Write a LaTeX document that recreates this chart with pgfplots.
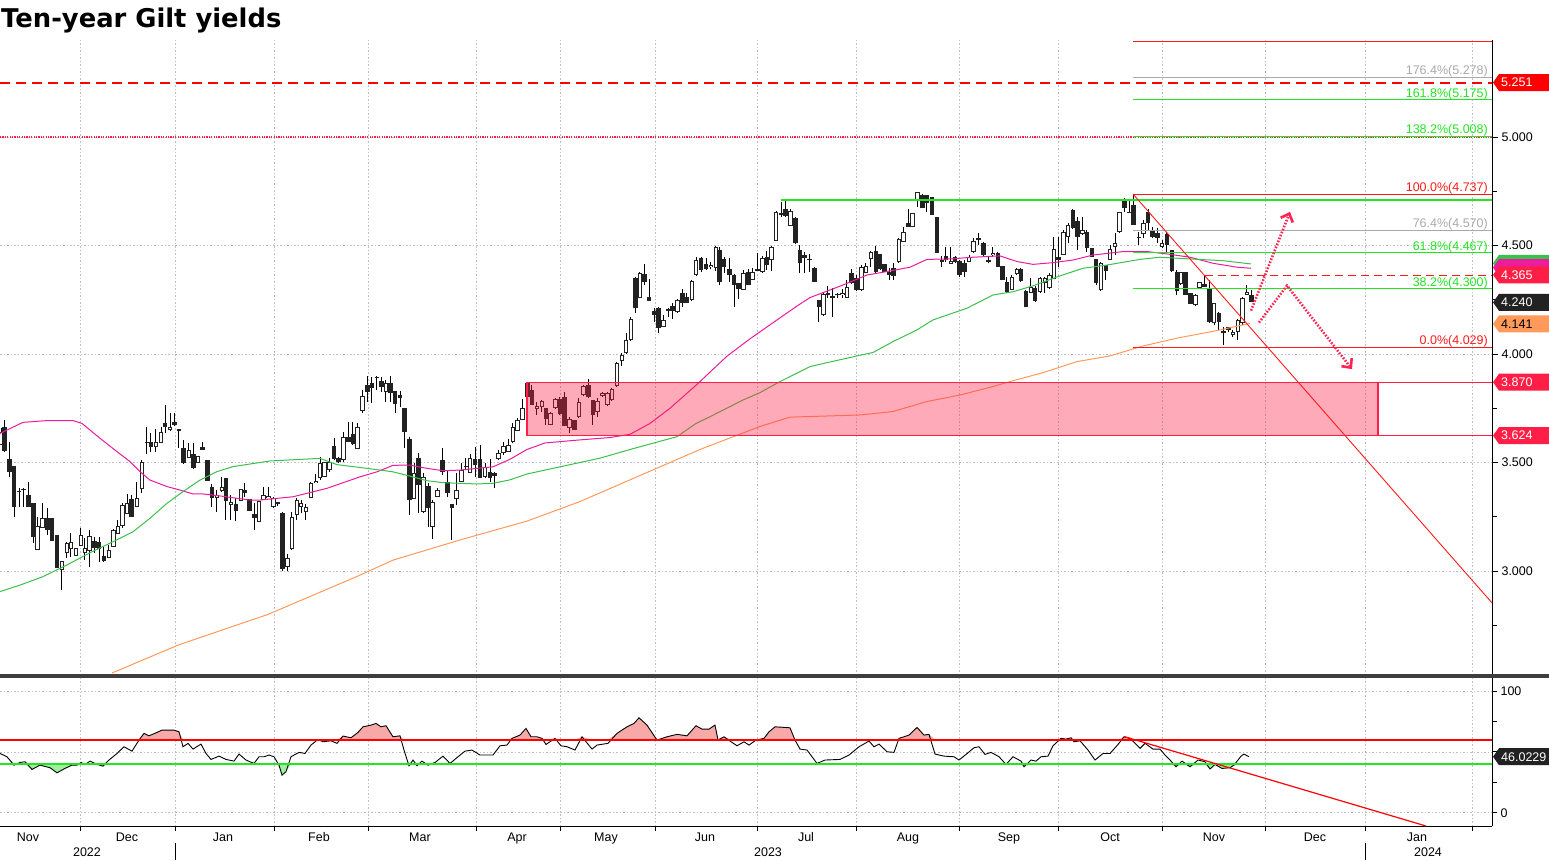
\documentclass[border=0pt]{standalone}
\usepackage{fontspec}
\setmainfont{Liberation Sans}
\newfontfamily\titlefont{DejaVu Sans}
\usepackage{pgfplots}
\usepackage{pgfplotstable}
\pgfplotsset{compat=1.18}
\usetikzlibrary{arrows.meta}

\definecolor{gridc}{HTML}{B8C0CE}
\definecolor{maA}{HTML}{EC1C9C}
\definecolor{maB}{HTML}{3CBF4C}
\definecolor{maC}{HTML}{FF9A5A}
\definecolor{fibg}{HTML}{22E622}
\definecolor{fibgr}{HTML}{AAAAAA}
\definecolor{fibr}{HTML}{FF1A1A}
\definecolor{boxr}{HTML}{FF1F46}
\definecolor{arr}{HTML}{FF2452}
\definecolor{band}{HTML}{3E3E3E}
\definecolor{flagk}{HTML}{222222}
\definecolor{rsir}{HTML}{F9A8A8}
\definecolor{rsig}{HTML}{A0EEA0}
\definecolor{hired}{HTML}{FF0000}

\pgfplotsset{/pgf/number format/assume math mode=true}

% daily candles: x position, open, high, low, close
\pgfplotstableread{
x o h l c
1 3.581 3.657 3.581 3.642
4.3 3.662 3.696 3.550 3.552
9.3 3.516 3.596 3.435 3.458
14 3.484 3.484 3.250 3.296
19 3.366 3.381 3.293 3.364
23.3 3.373 3.381 3.293 3.371
28.3 3.350 3.409 3.293 3.296
33.3 3.312 3.312 3.131 3.155
37.3 3.095 3.250 3.095 3.207
42.3 3.197 3.312 3.197 3.243
47.3 3.243 3.289 3.166 3.189
51.7 3.243 3.243 3.140 3.140
56.7 3.166 3.166 3.015 3.015
61.7 3.005 3.048 2.912 3.048
66.7 3.084 3.135 3.058 3.127
70.7 3.100 3.174 3.066 3.134
75.7 3.071 3.104 3.071 3.104
80.7 3.115 3.197 3.115 3.164
84.7 3.084 3.151 3.051 3.106
89.3 3.094 3.189 3.020 3.161
94.3 3.138 3.158 3.081 3.107
99 3.132 3.158 3.043 3.100
103.7 3.071 3.112 3.043 3.048
108.7 3.061 3.120 3.058 3.097
113.3 3.112 3.192 3.112 3.187
117.7 3.170 3.235 3.170 3.207
122.3 3.207 3.312 3.197 3.304
127 3.263 3.355 3.263 3.315
131.3 3.332 3.350 3.247 3.247
136.7 3.293 3.412 3.293 3.335
141.7 3.376 3.511 3.361 3.504
146.7 3.588 3.665 3.539 3.596
150.7 3.596 3.634 3.550 3.573
155.7 3.570 3.653 3.550 3.596
161 3.591 3.665 3.591 3.642
165 3.680 3.765 3.634 3.662
170 3.650 3.726 3.647 3.665
174.3 3.688 3.726 3.670 3.673
178.7 3.647 3.653 3.565 3.653
183.3 3.565 3.604 3.493 3.496
188.7 3.519 3.591 3.519 3.558
193.3 3.538 3.588 3.468 3.476
198 3.499 3.530 3.499 3.530
202.3 3.570 3.596 3.558 3.558
207.3 3.511 3.511 3.416 3.416
211.7 3.389 3.401 3.293 3.335
216.7 3.335 3.373 3.273 3.350
221.7 3.370 3.432 3.366 3.385
225.7 3.427 3.427 3.235 3.324
230.7 3.304 3.350 3.235 3.316
235.7 3.307 3.335 3.232 3.278
240.7 3.324 3.378 3.324 3.378
244.7 3.373 3.404 3.342 3.361
249.3 3.330 3.330 3.278 3.278
254.3 3.261 3.312 3.189 3.246
258.7 3.224 3.323 3.224 3.323
263.3 3.327 3.388 3.327 3.350
268.3 3.335 3.388 3.335 3.345
273.3 3.296 3.342 3.289 3.335
277.3 3.313 3.320 3.300 3.310
282.3 3.265 3.270 3.000 3.010
287.3 3.020 3.080 3.000 3.060
291.7 3.100 3.273 3.097 3.247
296.7 3.258 3.335 3.235 3.327
301 3.296 3.327 3.265 3.315
305.7 3.273 3.311 3.235 3.296
310.7 3.335 3.411 3.335 3.404
315.7 3.404 3.447 3.404 3.415
320 3.427 3.527 3.419 3.496
324.3 3.431 3.504 3.431 3.504
329.3 3.465 3.519 3.457 3.504
334 3.576 3.611 3.511 3.514
338.3 3.522 3.527 3.496 3.504
343.3 3.511 3.642 3.504 3.616
348.3 3.616 3.688 3.596 3.596
352.7 3.631 3.688 3.580 3.585
357.3 3.560 3.680 3.560 3.662
362.3 3.739 3.834 3.726 3.806
367.3 3.857 3.898 3.780 3.826
371.7 3.868 3.895 3.775 3.841
376.7 3.892 3.898 3.834 3.890
381.3 3.875 3.895 3.826 3.849
385.7 3.826 3.880 3.780 3.868
390.3 3.868 3.898 3.780 3.821
395 3.829 3.829 3.729 3.768
400 3.811 3.829 3.754 3.795
404.3 3.749 3.749 3.565 3.642
409.3 3.608 3.616 3.258 3.327
414 3.330 3.496 3.330 3.453
418.3 3.519 3.542 3.265 3.396
423.3 3.273 3.450 3.265 3.434
428.3 3.391 3.404 3.204 3.288
432.3 3.204 3.327 3.146 3.319
437.3 3.342 3.381 3.342 3.373
442.3 3.511 3.565 3.442 3.457
447.3 3.411 3.465 3.342 3.361
451.7 3.311 3.311 3.143 3.289
456.3 3.330 3.450 3.304 3.373
461.3 3.411 3.496 3.411 3.465
465.7 3.477 3.519 3.465 3.480
470 3.450 3.537 3.450 3.519
475 3.514 3.573 3.434 3.488
480 3.514 3.580 3.427 3.427
485 3.434 3.496 3.427 3.480
490 3.457 3.514 3.411 3.427
494.3 3.450 3.457 3.381 3.437
498.3 3.514 3.557 3.511 3.545
503.3 3.542 3.596 3.534 3.576
508.3 3.550 3.608 3.550 3.580
512.7 3.595 3.680 3.588 3.665
517.3 3.646 3.703 3.646 3.696
522.3 3.698 3.791 3.695 3.749
527.3 3.865 3.865 3.800 3.803
531.7 3.834 3.857 3.765 3.765
536.7 3.746 3.777 3.719 3.761
541.7 3.757 3.788 3.734 3.785
545.7 3.749 3.749 3.672 3.699
550.3 3.673 3.734 3.673 3.729
555.3 3.749 3.795 3.745 3.792
559.7 3.791 3.803 3.719 3.723
564.3 3.803 3.826 3.669 3.669
569.3 3.657 3.711 3.634 3.699
574.3 3.695 3.695 3.652 3.652
578.7 3.711 3.795 3.703 3.780
583.3 3.811 3.857 3.806 3.853
588.3 3.857 3.883 3.795 3.800
592.7 3.788 3.788 3.672 3.719
597.3 3.734 3.795 3.711 3.785
602.3 3.806 3.826 3.800 3.822
607.3 3.765 3.826 3.760 3.818
611.7 3.788 3.841 3.785 3.837
616.7 3.852 3.964 3.849 3.957
621.7 3.969 4.003 3.944 3.995
626 4.003 4.095 4.000 4.064
630.7 4.064 4.172 4.061 4.159
635.3 4.348 4.356 4.190 4.210
639.7 4.256 4.379 4.256 4.371
644.3 4.368 4.413 4.318 4.333
649 4.261 4.344 4.245 4.245
654.3 4.198 4.210 4.149 4.180
658.3 4.210 4.218 4.098 4.118
663.3 4.123 4.179 4.123 4.156
668.3 4.198 4.213 4.172 4.206
672.3 4.221 4.233 4.161 4.200
677.3 4.192 4.252 4.190 4.249
682.3 4.279 4.298 4.218 4.233
686.7 4.261 4.279 4.233 4.233
691.7 4.249 4.341 4.246 4.338
696 4.364 4.445 4.361 4.433
701 4.441 4.448 4.379 4.387
706 4.414 4.441 4.387 4.390
710.7 4.399 4.425 4.390 4.410
715.7 4.394 4.497 4.384 4.494
719.3 4.479 4.494 4.318 4.333
724 4.436 4.448 4.371 4.402
729.3 4.390 4.441 4.333 4.364
734 4.364 4.368 4.218 4.318
738.3 4.325 4.328 4.252 4.298
743.3 4.295 4.387 4.295 4.374
748.3 4.379 4.390 4.318 4.318
752.3 4.341 4.394 4.341 4.379
757.3 4.390 4.464 4.384 4.384
762.3 4.380 4.452 4.375 4.441
766.7 4.446 4.476 4.387 4.410
771.3 4.433 4.498 4.384 4.492
776 4.522 4.661 4.522 4.656
781 4.639 4.702 4.633 4.648
785.3 4.667 4.707 4.630 4.636
790.3 4.592 4.667 4.592 4.661
795.3 4.625 4.630 4.507 4.510
799.7 4.480 4.502 4.375 4.421
804.3 4.456 4.472 4.375 4.441
809.3 4.437 4.461 4.380 4.433
814.3 4.395 4.400 4.330 4.330
818.7 4.249 4.249 4.149 4.215
823.3 4.180 4.287 4.177 4.277
827.7 4.280 4.314 4.257 4.272
832.3 4.267 4.303 4.172 4.257
837.3 4.272 4.280 4.257 4.270
842.3 4.272 4.298 4.257 4.283
846.7 4.257 4.341 4.257 4.310
851.3 4.372 4.390 4.323 4.326
856.3 4.349 4.364 4.291 4.295
861.3 4.295 4.410 4.291 4.400
865.7 4.375 4.421 4.372 4.406
870.7 4.436 4.476 4.400 4.472
875.7 4.476 4.498 4.375 4.380
880 4.461 4.461 4.387 4.390
884.3 4.415 4.415 4.380 4.380
889.3 4.380 4.395 4.341 4.364
893.3 4.395 4.418 4.341 4.360
898.7 4.426 4.533 4.421 4.529
903.3 4.518 4.584 4.518 4.564
908.3 4.605 4.667 4.587 4.587
912.3 4.584 4.648 4.584 4.648
917.3 4.710 4.748 4.679 4.745
922.3 4.733 4.737 4.671 4.671
926.7 4.733 4.733 4.656 4.695
931.7 4.722 4.725 4.641 4.641
936.7 4.630 4.633 4.464 4.467
941.7 4.424 4.452 4.400 4.433
945.7 4.452 4.492 4.426 4.433
950.7 4.415 4.492 4.415 4.429
955 4.446 4.452 4.418 4.426
959.3 4.430 4.433 4.354 4.364
964.3 4.421 4.433 4.357 4.380
969 4.426 4.456 4.426 4.449
973.3 4.472 4.533 4.467 4.522
978.3 4.525 4.559 4.502 4.533
983.3 4.510 4.518 4.452 4.457
988.3 4.433 4.452 4.418 4.426
992.7 4.456 4.495 4.452 4.467
997.7 4.467 4.472 4.400 4.403
1002.3 4.405 4.405 4.341 4.341
1006.7 4.333 4.357 4.280 4.287
1011.7 4.295 4.364 4.295 4.357
1016.7 4.367 4.395 4.364 4.390
1020.7 4.390 4.395 4.334 4.338
1025.7 4.290 4.295 4.215 4.215
1030.7 4.280 4.349 4.280 4.307
1035 4.303 4.314 4.241 4.246
1040 4.287 4.357 4.283 4.349
1044.7 4.326 4.357 4.280 4.349
1049.3 4.303 4.372 4.298 4.364
1053.7 4.344 4.541 4.344 4.483
1058.3 4.446 4.541 4.403 4.433
1063.3 4.456 4.572 4.456 4.564
1068 4.538 4.602 4.510 4.595
1072.7 4.664 4.667 4.575 4.580
1077.3 4.615 4.633 4.479 4.538
1082.3 4.553 4.633 4.549 4.572
1086.7 4.564 4.572 4.472 4.487
1091.7 4.487 4.487 4.449 4.449
1096 4.438 4.438 4.318 4.326
1100.7 4.295 4.426 4.292 4.421
1105.7 4.410 4.410 4.341 4.384
1110 4.433 4.502 4.433 4.483
1115 4.492 4.556 4.456 4.510
1119.3 4.564 4.656 4.559 4.656
1124.3 4.713 4.718 4.656 4.671
1129.3 4.652 4.710 4.648 4.650
1133.3 4.687 4.737 4.594 4.594
1138.7 4.541 4.564 4.502 4.533
1143.3 4.553 4.618 4.533 4.602
1148 4.656 4.667 4.572 4.602
1152.3 4.572 4.587 4.533 4.541
1157.3 4.556 4.579 4.510 4.533
1162 4.495 4.525 4.487 4.510
1166.7 4.553 4.564 4.464 4.503
1171.7 4.480 4.480 4.380 4.384
1176.7 4.380 4.387 4.272 4.288
1180.7 4.323 4.380 4.318 4.380
1185.3 4.380 4.380 4.272 4.272
1190.3 4.280 4.280 4.231 4.231
1195.3 4.226 4.277 4.221 4.272
1199.3 4.303 4.334 4.303 4.334
1204.3 4.323 4.364 4.310 4.310
1209.3 4.298 4.341 4.141 4.149
1214 4.141 4.237 4.134 4.234
1218.7 4.188 4.195 4.111 4.149
1223.3 4.099 4.126 4.042 4.108
1228.3 4.126 4.126 4.103 4.111
1232.7 4.088 4.111 4.080 4.103
1237.7 4.103 4.160 4.065 4.157
1242.3 4.141 4.261 4.134 4.257
1246.7 4.272 4.318 4.272 4.287
1251.3 4.272 4.295 4.241 4.241
}\candles

% lower panel oscillator
\pgfplotstableread{
x v
0 48.7
7 46
14 39.1
20 41.3
25 41.9
32 35.6
40 39.1
50 37
57 32.8
65 36.4
72 39.1
77 39.1
81 41.3
85 39.5
90 42.4
97 39.7
103 38.3
109 43.3
117 48.7
124 54.2
132 50.6
139 59.7
144 65.2
149 63.2
157 66
162 67.9
174 67.9
179 66.5
183 54.2
188 57
193 52.3
201 56.4
206 48.7
211 43.8
219 46.5
226 43.8
234 42.4
239 48.2
246 43.3
254 40.5
259 46
264 46
269 47.4
274 46
279 39.1
282 30.9
286 33.7
291 46
299 49.6
305 48.7
311 55.6
318 60.2
323 58.3
331 59.1
337 57
343 63
351 61.6
358 66
363 70.6
371 72
376 73.4
381 70.6
386 71.5
393 62.4
400 63.2
404 51.5
409 38.6
413 43.3
417 38.6
422 42.4
428 39.1
435 41.3
443 46.5
450 40.5
458 46
465 50.6
472 51.5
480 47.4
493 47.4
500 55
507 55.6
512 61.1
520 63.8
526 69.3
531 62.4
537 62.4
542 61.1
546 56.1
555 61.1
561 55
567 54.2
575 51.5
582 62.4
592 52.3
597 55.6
608 57
617 65.2
627 70.6
634 73.4
639 78
647 72
657 59.7
667 62.4
677 64.4
687 63.2
696 71.5
702 68.7
709 68.7
715 72
718 59.7
724 62.4
731 58.3
737 55
744 58.3
749 55.6
756 59.7
764 61.1
769 66.5
775 70.6
790 69.8
795 59.7
800 52.3
807 51.5
817 40.5
825 43.3
840 43.8
849 47.4
859 54.2
869 58.9
874 54.2
879 56.4
887 50.1
894 49.6
899 61.1
909 63.8
917 70.1
924 63.8
929 64.4
935 48.2
944 46.5
954 46
959 43.3
966 47.9
974 53.4
979 54.2
985 47.9
991 49.6
999 46
1006 39.7
1013 46
1021 42.4
1024 37.8
1031 43.3
1036 42.4
1041 46
1048 46.5
1053 55
1061 61.1
1066 60.5
1071 61.6
1074 58.3
1080 59.1
1088 51.5
1095 43.3
1103 48.7
1110 48.7
1118 56.1
1124 62.4
1130 61.1
1135 57
1140 52.9
1145 57
1153 52.3
1160 52.3
1165 47.4
1170 43.3
1176 37.8
1182 42.4
1190 37.8
1198 43.3
1205 41.9
1210 35.9
1215 39.7
1222 36.4
1230 37
1234 39.1
1241 46.5
1244 48.2
1249 46
}\rsi

\newcommand{\flag}[4]{%
  \fill[#2] (axis cs:1493,#1) -- ++(6pt,8.5pt) -- ++(60pt,0pt) -- ++(0pt,-17pt) -- ++(-60pt,0pt) -- cycle;
  \node[anchor=west, inner sep=0pt, text=#3, font=\fontsize{12.5}{14}\selectfont] at ([xshift=8pt]axis cs:1493,#1) {#4};}
\newcommand{\fib}[3]{%
  \node[anchor=base east, inner sep=0pt, text=#2, font=\fontsize{12.5}{14}\selectfont] at ([yshift=2.5pt]axis cs:1488,#1) {#3};}

\begin{document}
\begin{tikzpicture}
\useasboundingbox (0pt,0pt) rectangle (1549pt,860pt);

\begin{axis}[
  at={(0pt,185pt)}, anchor=south west,
  scale only axis, width=1492pt, height=635pt,
  xmin=0, xmax=1492, ymin=2.5207, ymax=5.447,
  axis x line*=bottom, axis y line*=right,
  x axis line style={draw=none},
  y axis line style={black, line width=0.9pt},
  xtick={80.6,175,274,368,476,560,655,757,856,959,1058,1162,1265,1365,1472},
  xticklabels={}, xtick style={draw=none},
  ytick={3,3.5,4,4.5,5}, minor ytick={2.75,3.25,3.75,4.25,4.75,5.25},
  xmajorgrids, ymajorgrids,
  major grid style={gridc, dash pattern=on 1.5pt off 2pt, line width=0.7pt},
  tick align=outside, major tick length=6pt, minor tick length=5pt,
  ytick style={black, line width=0.9pt},
  y tick label style={/pgf/number format/.cd, fixed, fixed zerofill, precision=3},
  tick label style={font=\fontsize{12.5}{14}\selectfont},
  clip=false,
]
% wicks
\addplot[draw=none, no markers, error bars/.cd, y dir=plus, y explicit, error mark=none,
  error bar style={line width=1pt, draw=black, solid}]
  table[x=x, y=l, y error plus expr={\thisrow{h}-\thisrow{l}}] {\candles};
% bodies
\addplot[draw=none, no markers, error bars/.cd, y dir=plus, y explicit, error mark=none,
  error bar style={line width=4.4pt, draw=flagk, solid}]
  table[x=x, y expr={min(\thisrow{o},\thisrow{c})}, y error plus expr={max(abs(\thisrow{c}-\thisrow{o}),0.006)}] {\candles};
\addplot[draw=none, no markers, error bars/.cd, y dir=plus, y explicit, error mark=none,
  error bar style={line width=2.4pt, draw=white, solid}]
  table[x=x, y expr={\thisrow{o}+0.0046}, y error plus expr={max(\thisrow{c}-\thisrow{o}-0.0092,0)}] {\candles};

% moving averages
\addplot[maA, line width=1pt, mark=none] coordinates {(0,3.634) (23,3.685) (47,3.693) (73,3.693) (82,3.68) (98,3.619) (117,3.55) (130,3.504) (140,3.458) (150,3.419) (167,3.389) (180,3.373) (193,3.355) (203,3.355) (220,3.346) (237,3.335) (250,3.327) (260,3.327) (293,3.342) (327,3.381) (360,3.434) (377,3.457) (393,3.487) (410,3.488) (427,3.473) (443,3.462) (460,3.465) (477,3.473) (493,3.48) (510,3.515) (527,3.56) (545,3.59) (577,3.603) (610,3.615) (630,3.63) (650,3.68) (670,3.75) (697,3.86) (727,3.99) (750,4.07) (777,4.157) (797,4.221) (810,4.26) (830,4.295) (843,4.318) (867,4.364) (887,4.38) (910,4.40) (927,4.436) (950,4.438) (973,4.446) (1000,4.452) (1017,4.426) (1033,4.413) (1053,4.421) (1073,4.433) (1093,4.456) (1123,4.472) (1147,4.472) (1167,4.461) (1190,4.446) (1213,4.418) (1237,4.40) (1251,4.395)};
\addplot[maB, line width=1pt, mark=none] coordinates {(0,2.905) (20,2.935) (43,2.974) (67,3.028) (90,3.084) (113,3.135) (133,3.181) (150,3.243) (167,3.312) (183,3.366) (200,3.419) (217,3.458) (233,3.481) (250,3.493) (270,3.507) (320,3.519) (337,3.49) (360,3.477) (393,3.457) (410,3.437) (427,3.416) (443,3.407) (477,3.401) (493,3.404) (510,3.42) (527,3.447) (558,3.478) (600,3.52) (634,3.565) (677,3.619) (696,3.68) (710,3.711) (743,3.788) (760,3.822) (780,3.873) (810,3.942) (827,3.96) (857,3.991) (873,4.007) (893,4.057) (917,4.111) (933,4.157) (967,4.211) (993,4.272) (1013,4.287) (1033,4.314) (1060,4.36) (1083,4.395) (1107,4.41) (1140,4.436) (1160,4.446) (1190,4.438) (1223,4.43) (1251,4.415)};
\addplot[maC, line width=1pt, mark=none] coordinates {(112,2.53) (179,2.66) (268,2.80) (357,2.975) (393,3.05) (460,3.143) (527,3.23) (580,3.32) (625,3.41) (670,3.50) (700,3.56) (760,3.666) (790,3.709) (860,3.719) (893,3.735) (927,3.781) (960,3.811) (993,3.85) (1010,3.873) (1043,3.914) (1077,3.965) (1110,3.991) (1143,4.037) (1177,4.073) (1217,4.108) (1250,4.141)};

% support zone
\addplot[fill=boxr, fill opacity=0.38, draw=boxr, line width=1.2pt, mark=none] coordinates {(527,3.624) (527,3.870) (1378,3.870) (1378,3.624) (527,3.624)};
\addplot[boxr, line width=1.4pt, mark=none] coordinates {(569,3.624) (1492,3.624)};
\addplot[boxr, line width=1pt, mark=none] coordinates {(1378,3.870) (1492,3.870)};

% horizontal reference lines
\addplot[hired, line width=2pt, dash pattern=on 10pt off 6pt, mark=none] coordinates {(0,5.251) (1492,5.251)};
\addplot[boxr, line width=1.2pt, dash pattern=on 1.2pt off 1.2pt, mark=none] coordinates {(0,5.0) (1492,5.0)};
\addplot[fibg, line width=1.3pt, mark=none] coordinates {(781,4.710) (1492,4.710)};
\addplot[fibr, line width=1pt, mark=none] coordinates {(1133,5.439) (1492,5.439)};
\addplot[fibgr, line width=1pt, mark=none] coordinates {(1133,5.275) (1492,5.275)};
\addplot[fibg, line width=1pt, mark=none] coordinates {(1133,5.172) (1492,5.172)};
\addplot[fibg, line width=1pt, mark=none] coordinates {(1133,5.003) (1492,5.003)};
\addplot[fibr, line width=1pt, mark=none] coordinates {(1133,4.737) (1492,4.737)};
\addplot[fibgr, line width=1pt, mark=none] coordinates {(1133,4.570) (1492,4.570)};
\addplot[fibg, line width=1pt, mark=none] coordinates {(1133,4.466) (1492,4.466)};
\addplot[fibg, line width=1pt, mark=none] coordinates {(1133,4.300) (1492,4.300)};
\addplot[fibr, line width=1pt, mark=none] coordinates {(1133,4.030) (1492,4.030)};
\addplot[fibr, line width=0.9pt, dash pattern=on 8pt off 5pt, mark=none] coordinates {(1205,4.362) (1492,4.362)};
\addplot[fibr, line width=0.9pt, mark=none] coordinates {(1133,4.737) (1492,2.853)};

% projected paths
\addplot[arr, line width=2.6pt, dash pattern=on 1.6pt off 1.6pt, mark=none, -{Straight Barb[length=7pt,width=13pt]}] coordinates {(1251,4.20) (1290,4.655)};
\addplot[arr, line width=2.6pt, dash pattern=on 1.6pt off 1.6pt, mark=none, -{Straight Barb[length=7pt,width=13pt]}] coordinates {(1259,4.145) (1287,4.315) (1352,3.93)};

\fib{5.275}{fibgr}{176.4\%(5.278)}
\fib{5.172}{fibg}{161.8\%(5.175)}
\fib{5.003}{fibg}{138.2\%(5.008)}
\fib{4.737}{fibr}{100.0\%(4.737)}
\fib{4.570}{fibgr}{76.4\%(4.570)}
\fib{4.466}{fibg}{61.8\%(4.467)}
\fib{4.300}{fibg}{38.2\%(4.300)}
\fib{4.030}{fibr}{0.0\%(4.029)}

\flag{5.251}{hired}{white}{5.251}
\flag{4.418}{maB}{white}{}
\flag{4.398}{maA}{white}{}
\flag{4.365}{boxr}{white}{4.365}
\flag{4.238}{flagk}{white}{4.240}
\flag{4.139}{maC}{black}{4.141}
\flag{3.870}{boxr}{white}{3.870}
\flag{3.624}{boxr}{white}{3.624}
\end{axis}

\begin{axis}[
  at={(0pt,34pt)}, anchor=south west,
  scale only axis, width=1492pt, height=148pt,
  xmin=0, xmax=1492, ymin=-10.9, ymax=110.7,
  axis x line*=bottom, axis y line*=right,
  axis line style={black, line width=0.9pt},
  xtick={80.6,175,274,368,476,560,655,757,856,959,1058,1162,1265,1365,1472},
  xticklabels={},
  extra x ticks={28,127,223,319,420,517,606,705,806,908,1009,1110,1214,1315,1417},
  extra x tick labels={Nov,Dec,Jan,Feb,Mar,Apr,May,Jun,Jul,Aug,Sep,Oct,Nov,Dec,Jan},
  extra x tick style={grid=none, major tick length=0pt},
  xticklabel style={yshift=-3pt},
  ytick={0,50,100}, yticklabels={0,,100}, minor ytick={25,75},
  xmajorgrids, ymajorgrids,
  major grid style={gridc, dash pattern=on 1.5pt off 2pt, line width=0.7pt},
  tick align=outside, major tick length=5pt, minor tick length=5pt,
  tick style={black, line width=0.9pt},
  tick label style={font=\fontsize{12.5}{14}\selectfont},
  clip=false,
]
% overbought / oversold shading
\addplot[fill=rsir, draw=none, mark=none]
  table[x=x, y expr={max(\thisrow{v},60)}] {\rsi} -- (axis cs:1249,60) -- (axis cs:0,60) -- cycle;
\addplot[fill=rsig, draw=none, mark=none]
  table[x=x, y expr={min(\thisrow{v},40)}] {\rsi} -- (axis cs:1249,40) -- (axis cs:0,40) -- cycle;
\addplot[draw=black, line width=0.9pt, mark=none] table[x=x, y=v] {\rsi};
\addplot[draw=fibg, solid, line width=1.4pt, mark=none] coordinates {(0,40) (1492,40)};
\addplot[draw=hired, line width=1.2pt, mark=none] coordinates {(1124,62.6) (1426,-10.9)};
\addplot[draw=hired, solid, line width=1.5pt, mark=none] coordinates {(0,59.8) (1492,59.8)};
\node[font=\fontsize{12.5}{14}\selectfont] at ([yshift=-26pt]axis cs:87,-10.9) {2022};
\node[font=\fontsize{12.5}{14}\selectfont] at ([yshift=-26pt]axis cs:768,-10.9) {2023};
\node[font=\fontsize{12.5}{14}\selectfont] at ([yshift=-26pt]axis cs:1428,-10.9) {2024};
\draw[black, line width=0.8pt] ([yshift=-17pt]axis cs:175,-10.9) -- ++(0pt,-17pt);
\draw[black, line width=0.8pt] ([yshift=-17pt]axis cs:1365,-10.9) -- ++(0pt,-17pt);
\flag{46.02}{flagk}{white}{46.0229}
\end{axis}

\fill[band] (0pt,182pt) rectangle (1549pt,186pt);
\node[anchor=base west, inner sep=0pt] at (1pt,832pt) {\titlefont\bfseries\fontsize{25.8}{30}\selectfont Ten-year Gilt yields};
\end{tikzpicture}
\end{document}
